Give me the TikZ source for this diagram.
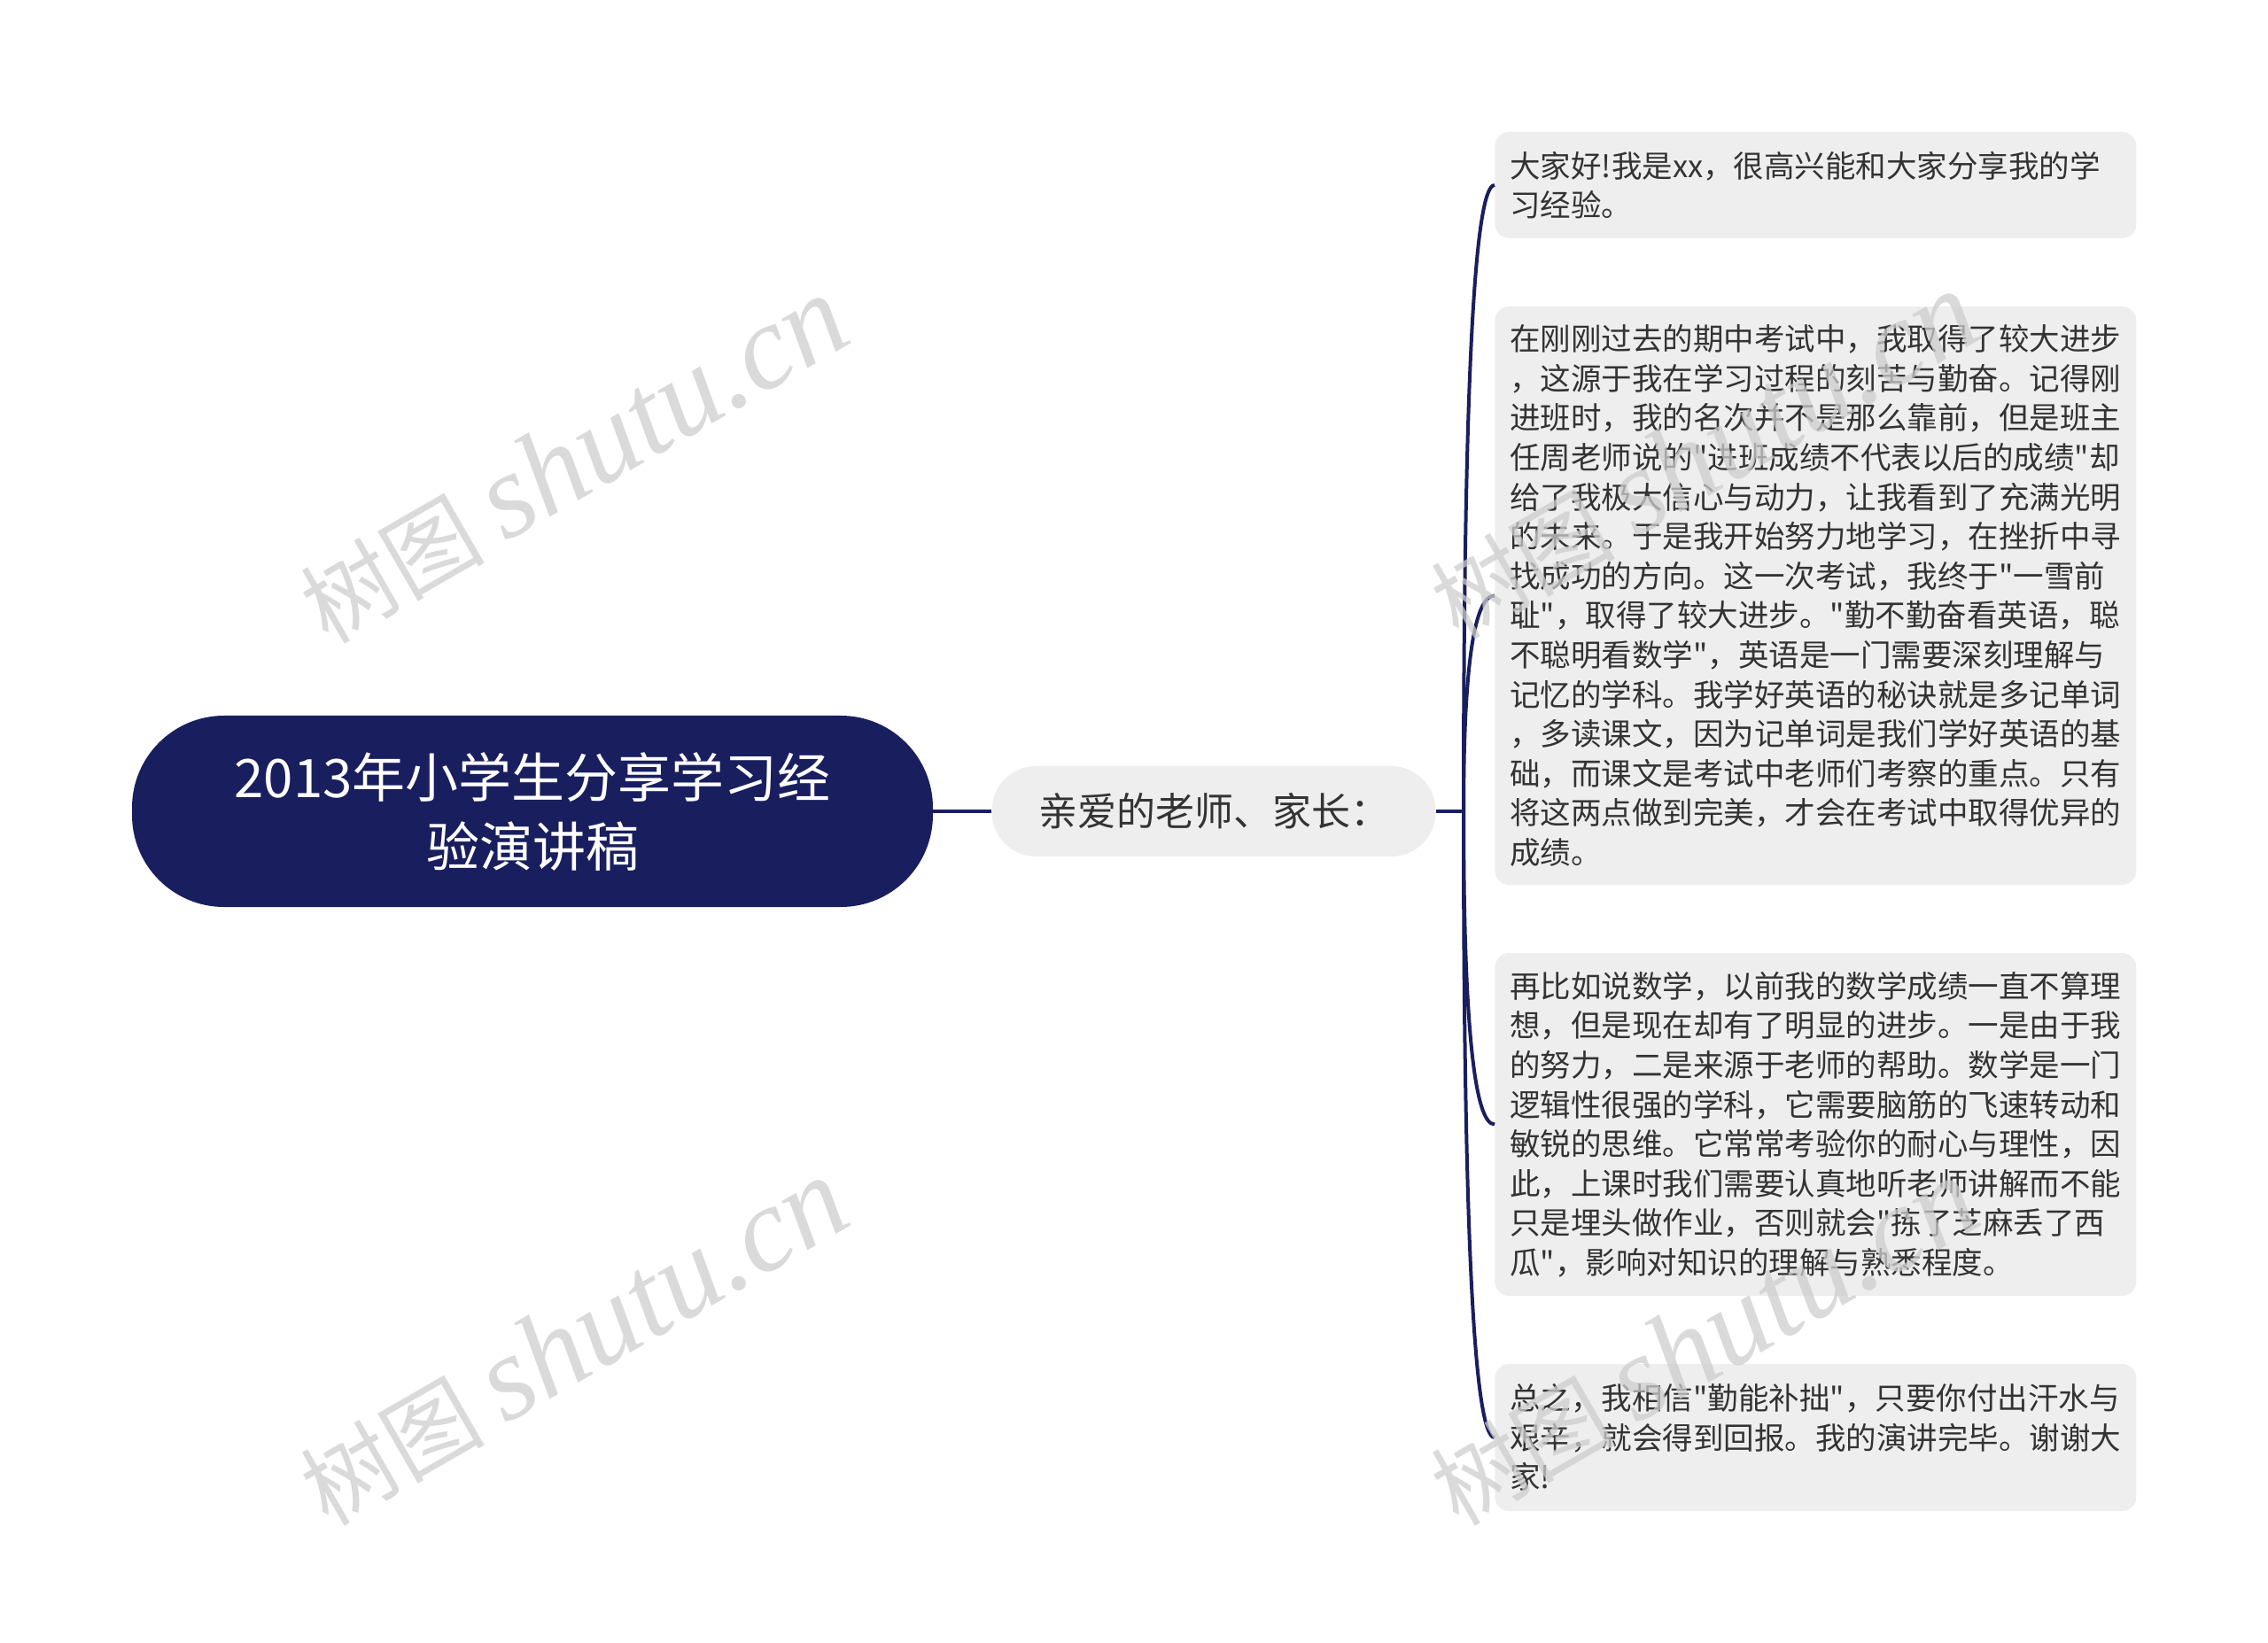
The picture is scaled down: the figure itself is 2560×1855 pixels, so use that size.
\documentclass[tikz,border=0pt]{standalone}
\usepackage{fontspec}
\setmainfont{Noto Sans CJK SC}[Ligatures=TeXOff]
\newfontfamily\wmlatin{Liberation Serif}
\usetikzlibrary{calc}

\definecolor{navy}{RGB}{25,31,94}
\definecolor{leafgray}{RGB}{238,238,238}
\definecolor{textgray}{RGB}{51,51,51}
\definecolor{markgray}{RGB}{205,205,205}

\tikzset{
  leaf/.style={fill=leafgray, rounded corners=8pt, anchor=west, text width=345pt,
    inner xsep=8.5pt, inner ysep=0pt, align=left, text=textgray,
    font=\fontsize{17.25}{22.3}\selectfont},
  trunk/.style={draw=navy, line width=2.4pt},
  branch/.style={draw=navy, line width=2pt},
  watermark/.style={rotate=30, text=markgray, opacity=0.75,
    font=\fontsize{52}{52}\selectfont}
}

\begin{document}
\begin{tikzpicture}[x=0.5pt, y=-0.5pt]

% Define canvas (pixel units, y downwards)
\useasboundingbox (0,0) rectangle (2560,1855);

% Define junction of the bracket
\coordinate (J) at (1652,916);

% Title node
\node[fill=navy, rounded corners=52pt, minimum width=452pt, minimum height=108pt,
  text=white, align=center, font=\fontsize{30}{39}\selectfont]
  (title) at (601,916) {2013年小学生分享学习经\\验演讲稿};

% Greeting node
\node[fill=leafgray, rounded corners=25pt, minimum width=250.5pt, minimum height=51pt,
  text=textgray, font=\fontsize{22}{26}\selectfont]
  (greet) at (1370,916) {亲爱的老师、家长：};

% Paragraph boxes
\node[leaf, minimum height=60pt] (p1) at (1687,209) {大家好!我是xx，很高兴能和大家分享我的学\\习经验。};
\node[leaf, minimum height=326.5pt] (p2) at (1687,672.5) {在刚刚过去的期中考试中，我取得了较大进步\\，这源于我在学习过程的刻苦与勤奋。记得刚\\进班时，我的名次并不是那么靠前，但是班主\\任周老师说的"进班成绩不代表以后的成绩"却\\给了我极大信心与动力，让我看到了充满光明\\的未来。于是我开始努力地学习，在挫折中寻\\找成功的方向。这一次考试，我终于"一雪前\\耻"，取得了较大进步。"勤不勤奋看英语，聪\\不聪明看数学"，英语是一门需要深刻理解与\\记忆的学科。我学好英语的秘诀就是多记单词\\，多读课文，因为记单词是我们学好英语的基\\础，而课文是考试中老师们考察的重点。只有\\将这两点做到完美，才会在考试中取得优异的\\成绩。};
\node[leaf, minimum height=193.5pt] (p3) at (1687,1269.5) {再比如说数学，以前我的数学成绩一直不算理\\想，但是现在却有了明显的进步。一是由于我\\的努力，二是来源于老师的帮助。数学是一门\\逻辑性很强的学科，它需要脑筋的飞速转动和\\敏锐的思维。它常常考验你的耐心与理性，因\\此，上课时我们需要认真地听老师讲解而不能\\只是埋头做作业，否则就会"拣了芝麻丢了西\\瓜"，影响对知识的理解与熟悉程度。};
\node[leaf, minimum height=83pt] (p4) at (1687,1623) {总之，我相信"勤能补拙"，只要你付出汗水与\\艰辛，就会得到回报。我的演讲完毕。谢谢大\\家!};

% Draw connectors
\draw[trunk] (title.east) -- (greet.west);
\draw[trunk] (greet.east) -- (J);
\foreach \p in {p1,p2,p3,p4}
  \draw[branch] (J) .. controls ($(J)!2/3!(J|-\p.west)$) and ($(\p.west)!2/3!(J|-\p.west)$) .. (\p.west);

% Watermarks
\foreach \x/\y [count=\i] in {647/519, 647/1515, 1923/514, 1923/1515}
  \node[watermark] (wm\i) at (\x,\y) {树图 {\wmlatin\itshape\fontsize{68}{68}\selectfont shutu.cn}};

\end{tikzpicture}
\end{document}
